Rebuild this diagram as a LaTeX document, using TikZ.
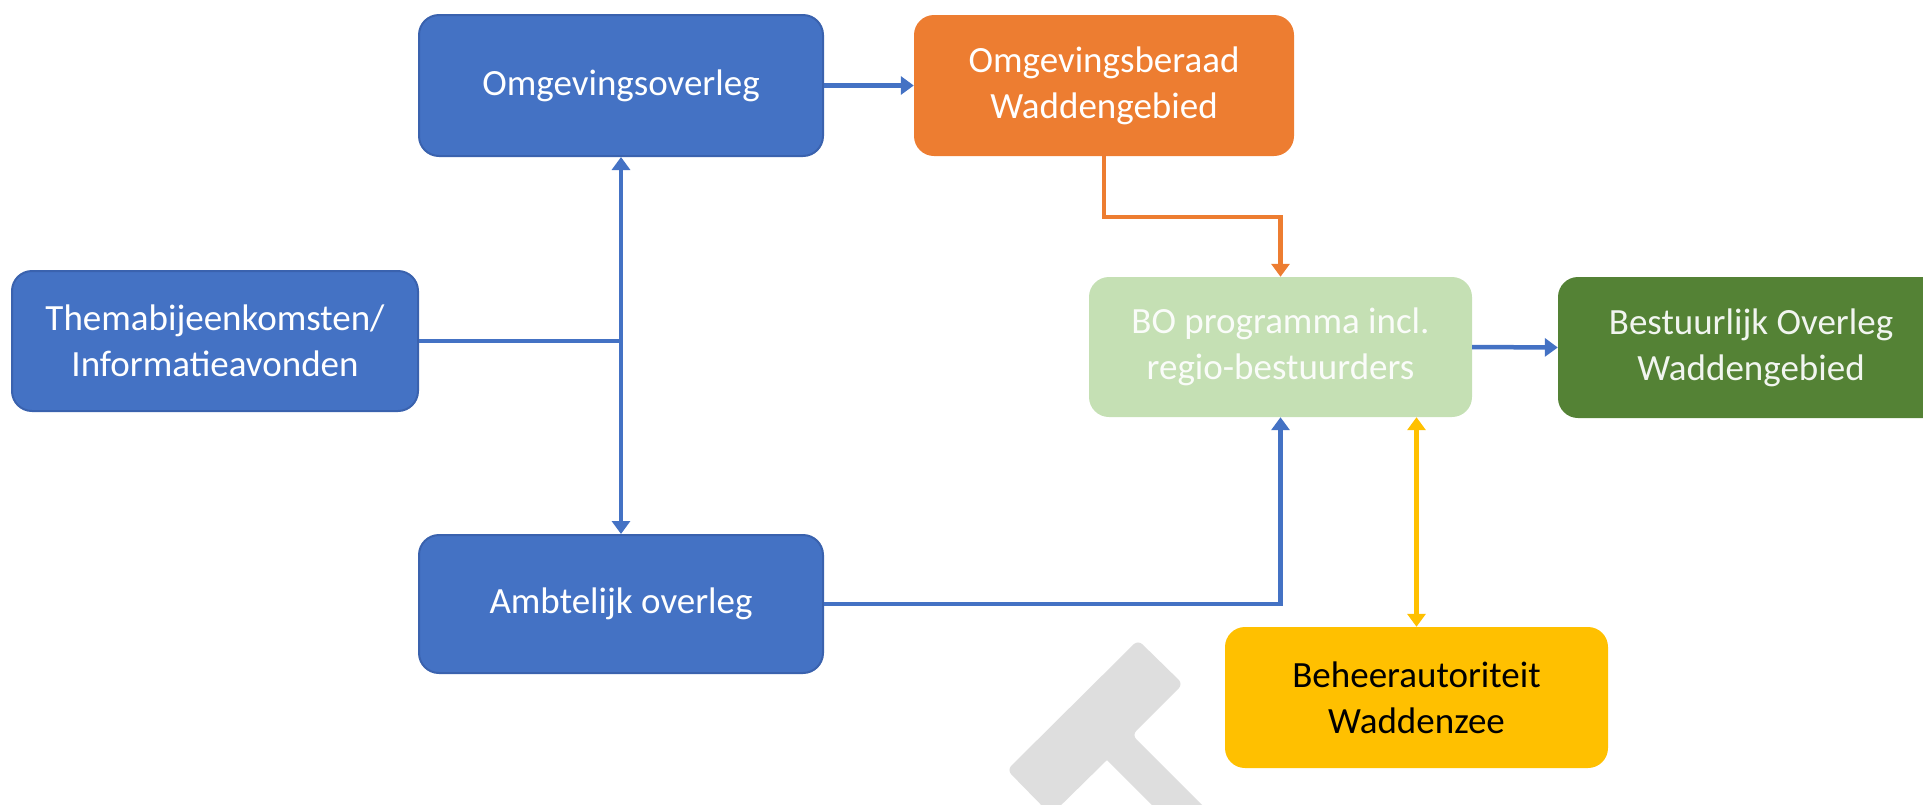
\documentclass[tikz,border=0pt]{standalone}
\usepackage{fontspec}
\setmainfont{Carlito}
\usetikzlibrary{arrows.meta,calc}
\definecolor{cblue}{HTML}{4472C4}
\definecolor{cblueb}{HTML}{3A62AE}
\definecolor{corange}{HTML}{ED7D31}
\definecolor{clgreen}{HTML}{C5E0B4}
\definecolor{cdgreen}{HTML}{548235}
\definecolor{cyellow}{HTML}{FFC000}
\definecolor{cwm}{HTML}{DEDEDE}
\tikzset{
  box/.style={rounded corners=20pt, align=center, inner sep=0pt,
    font=\fontsize{37}{46}\selectfont, text=white},
  bluebox/.style={box, fill=cblue, draw=cblueb, line width=2pt},
  orangebox/.style={box, fill=corange},
  lgreenbox/.style={box, fill=clgreen, text=white!92!clgreen},
  dgreenbox/.style={box, fill=cdgreen, text=white!92!cdgreen},
  yellowbox/.style={box, fill=cyellow, text=black},
  conn/.style={line width=4.5pt, draw=cblue, -{Triangle[width=18pt,length=13pt]}},
  connb/.style={line width=4.5pt, draw=cblue},
}
\begin{document}
\begin{tikzpicture}[x=1pt,y=-1pt]
\useasboundingbox (0,0) rectangle (1923,804);
\clip (0,0) rectangle (1923,804);
% watermark
\fill[cwm, rounded corners=6pt] (1138,640) -- (1183,684) -- (1132,735) [sharp corners] -- (1222,825) -- (1172,825) -- (1107,760) -- (1051,815) [rounded corners=6pt] -- (1007,770) -- cycle;
% boxes
\node[bluebox, minimum width=404pt, minimum height=141pt] (ov) at (621,85.5) {Omgevingsoverleg};
\node[orangebox, minimum width=380pt, minimum height=141pt] (ob) at (1104,85.5) {Omgevingsberaad\\Waddengebied};
\node[bluebox, minimum width=406pt, minimum height=140pt] (th) at (215,341) {Themabijeenkomsten/\\Informatieavonden};
\node[lgreenbox, minimum width=383pt, minimum height=140pt] (bo) at (1280.5,347) {BO programma incl.\\regio-bestuurders};
\node[dgreenbox, minimum width=386pt, minimum height=141pt] (be) at (1751,347.5) {Bestuurlijk Overleg\\Waddengebied};
\node[bluebox, minimum width=404pt, minimum height=138pt] (am) at (621,604) {Ambtelijk overleg};
\node[yellowbox, minimum width=383pt, minimum height=141pt] (bh) at (1416.5,697.5) {Beheerautoriteit\\Waddenzee};
% connectors
\coordinate (j) at (621,341);
\coordinate (o1) at (1104,217);
\draw[conn] (ov.east) -- (ob.west);
\draw[conn, draw=corange] (ob.south) -- (o1) -| (bo.north);
\draw[connb] (th.east) -- (j);
\draw[conn, {Triangle[width=18pt,length=13pt]}-{Triangle[width=18pt,length=13pt]}] (ov.south) -- (am.north);
\draw[conn] (am.east) -| (bo.south);
\draw[conn] (bo.east) -- (be.west);
\draw[conn, draw=cyellow, {Triangle[width=18pt,length=13pt]}-{Triangle[width=18pt,length=13pt]}] (bh.north) -- (bh.north |- bo.south);
\end{tikzpicture}
\end{document}
